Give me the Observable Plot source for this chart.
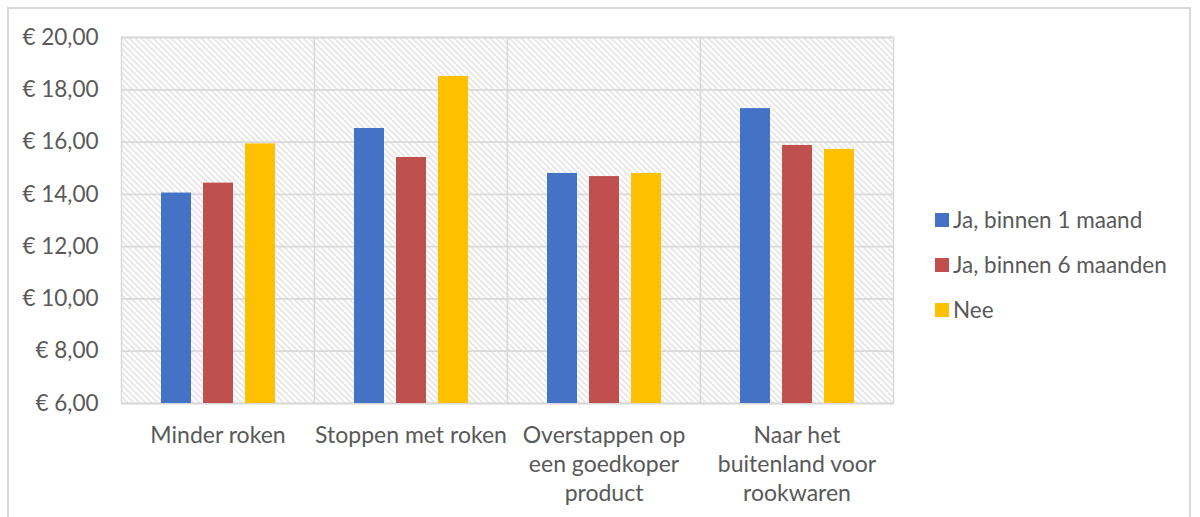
<!DOCTYPE html>
<html>
<head>
<meta charset="utf-8">
<script src="https://cdn.jsdelivr.net/npm/d3@7"></script>
<script src="https://cdn.jsdelivr.net/npm/@observablehq/plot@0.6"></script>
<style>
  body { margin: 0; background: #fff; font-family: Lato, "Open Sans", sans-serif; }
  #wrap { position: relative; width: 1200px; height: 517px; overflow: hidden; }
  #border { position: absolute; left: 7px; top: 7px; width: 1184px; height: 530px; border: 2px solid #d9d9d9; box-sizing: border-box; }
  #chart { position: absolute; left: 0; top: 0; }
  #legend { position: absolute; left: 935px; top: 197px; font-size: 22.5px; color: #595959; }
  .li { display: flex; align-items: center; height: 45px; }
  .sw { width: 14px; height: 14px; margin-right: 4px; }
</style>
</head>
<body>
<div id="wrap">
  <div id="border"></div>
  <div id="chart"></div>
  <div id="legend"></div>
</div>
<script>
const categories = ["Minder roken", "Stoppen met roken", "Overstappen op een goedkoper product", "Naar het buitenland voor rookwaren"];
const categoryLabels = ["Minder roken", "Stoppen met roken", "Overstappen op\neen goedkoper\nproduct", "Naar het\nbuitenland voor\nrookwaren"];
const series = ["Ja, binnen 1 maand", "Ja, binnen 6 maanden", "Nee"];
const valuesJa1 = [14.05, 16.52, 14.80, 17.28];
const valuesJa6 = [14.43, 15.41, 14.68, 15.87];
const valuesNee = [15.93, 18.51, 14.80, 15.72];
const colors = ["#4472C4", "#C0504D", "#FFC000"];
const yTicks = [6, 8, 10, 12, 14, 16, 18, 20];

const seriesValues = [valuesJa1, valuesJa6, valuesNee];
const data = [];
categories.forEach((c, i) => series.forEach((s, j) => data.push({cat: c, series: s, value: seriesValues[j][i]})));
const labelOf = new Map(categories.map((c, i) => [c, categoryLabels[i]]));

const chart = Plot.plot({
  width: 1200,
  height: 517,
  marginLeft: 120,
  marginRight: 307,
  marginTop: 37,
  marginBottom: 114,
  style: {fontFamily: "Lato, 'Open Sans', sans-serif", color: "#595959", background: "transparent"},
  fx: {domain: categories, paddingInner: 0, paddingOuter: 0, label: null},
  x: {domain: series, paddingInner: 0.29, paddingOuter: 0.92, axis: null},
  y: {domain: [6, 20], label: null},
  color: {domain: series, range: colors},
  marks: [
    Plot.frame({fill: "url(#hatch)", stroke: "#d9d9d9", strokeWidth: 1.5}),
    Plot.gridY({ticks: yTicks, stroke: "#d9d9d9", strokeOpacity: 1, strokeWidth: 1.8}),
    Plot.barY(data, {fx: "cat", x: "series", y1: 6, y2: "value", fill: "series"}),
    Plot.axisY({ticks: yTicks, tickSize: 0, tickPadding: 23, fontSize: 22.5, label: null,
      tickFormat: d => "€ " + d.toFixed(2).replace(".", ",")}),
    Plot.axisFx({anchor: "bottom", tickSize: 0, tickPadding: 19, fontSize: 23, lineHeight: 1.26, label: null,
      tickFormat: d => labelOf.get(d)})
  ]
});

const svg = d3.select(chart);
const defs = svg.insert("defs", ":first-child");
const pat = defs.append("pattern").attr("id", "hatch").attr("patternUnits", "userSpaceOnUse")
  .attr("width", 6).attr("height", 6);
pat.append("rect").attr("width", 6).attr("height", 6).attr("fill", "#fff");
pat.append("path").attr("d", "M0,0L6,6M-1,5L1,7M5,-1L7,1").attr("stroke", "#d6d6d6").attr("stroke-width", 1.2);

document.getElementById("chart").appendChild(chart);

const legend = document.getElementById("legend");
series.forEach((s, i) => {
  const row = document.createElement("div");
  row.className = "li";
  row.innerHTML = `<div class="sw" style="background:${colors[i]}"></div><span>${s}</span>`;
  legend.appendChild(row);
});
</script>
</body>
</html>
